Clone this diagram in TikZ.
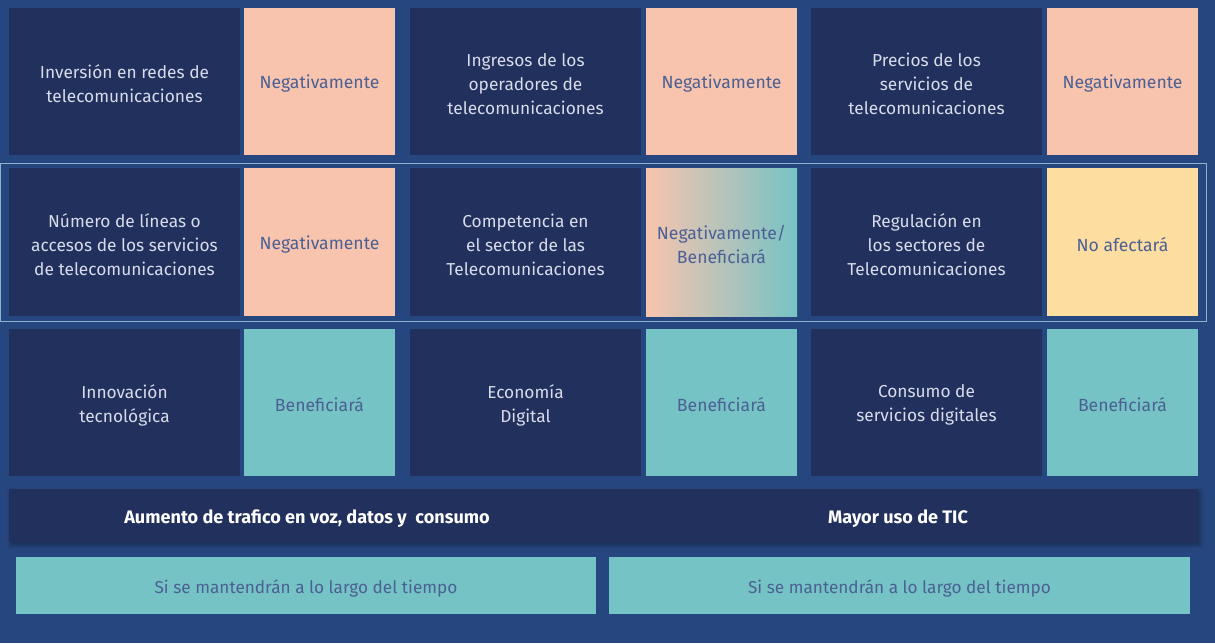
\documentclass[tikz,border=0pt]{standalone}
\usepackage{fontspec}
\setmainfont{Fira Sans}
\usetikzlibrary{shadows.blur}
\definecolor{bgblue}{HTML}{26467F}
\definecolor{navy}{HTML}{21305C}
\definecolor{salmon}{HTML}{F8C4AE}
\definecolor{tealc}{HTML}{76C3C5}
\definecolor{yellowc}{HTML}{FEDEA0}
\definecolor{lighttxt}{HTML}{D8DCEA}
\definecolor{bluetxt}{HTML}{4B6094}
\definecolor{outline}{HTML}{8FB3CC}
\tikzset{
  box/.style={inner sep=0pt},
  topic/.style={box, fill=navy, minimum width=231pt, minimum height=147pt},
  effect/.style={box, minimum width=151pt, minimum height=147pt},
  neg/.style={effect, fill=salmon},
  ben/.style={effect, fill=tealc},
  none/.style={effect, fill=yellowc},
  mixed/.style={effect, left color=salmon, right color=tealc},
  tall/.style={minimum height=148pt},
  ttxt/.style={inner sep=0pt, align=center, text=lighttxt, font=\fontsize{17.3}{24}\selectfont},
  etxt/.style={inner sep=0pt, align=center, text=bluetxt, font=\fontsize{17.6}{24}\selectfont},
  bar/.style={inner sep=0pt, fill=navy, minimum width=1189pt, minimum height=53pt},
  bartext/.style={inner sep=0pt, text=white, font=\fontsize{18.1}{20}\selectfont\bfseries},
  keep/.style={box, fill=tealc, minimum height=57pt},
  ktxt/.style={inner sep=0pt, text=bluetxt, font=\fontsize{17.2}{20}\selectfont},
}
% #1 box style, #2 text style, #3 name, #4 position, #5 text
\newcommand\cellbox[5]{%
  \node[#1] (#3) at (#4) {};
  \node[#2] (#3t) at ([yshift=-2.5pt]#3.center) {#5};}
\begin{document}
\begin{tikzpicture}[x=1pt,y=-1pt]
\fill[bgblue] (0,0) rectangle (1215,643);
\useasboundingbox (0,0) rectangle (1215,643);
% row 1
\cellbox{topic}{ttxt}{t11}{124.5,81.5}{Inversión en redes de\\telecomunicaciones}
\cellbox{neg}{etxt}{e11}{319.5,81.5}{Negativamente}
\cellbox{topic}{ttxt}{t12}{525.5,81.5}{Ingresos de los\\operadores de\\telecomunicaciones}
\cellbox{neg}{etxt}{e12}{721.5,81.5}{Negativamente}
\cellbox{topic}{ttxt}{t13}{926.5,81.5}{Precios de los\\servicios de\\telecomunicaciones}
\cellbox{neg}{etxt}{e13}{1122.5,81.5}{Negativamente}
% row 2
\cellbox{topic,tall}{ttxt}{t21}{124.5,242}{Número de líneas o\\accesos de los servicios\\de telecomunicaciones}
\cellbox{neg,tall}{etxt}{e21}{319.5,242}{Negativamente}
\cellbox{topic,tall}{ttxt}{t22}{525.5,242}{Competencia en\\el sector de las\\Telecomunicaciones}
\cellbox{mixed,tall}{etxt}{e22}{721.5,242}{Negativamente/\\Beneficiará}
\cellbox{topic,tall}{ttxt}{t23}{926.5,242}{Regulación en\\los sectores de\\Telecomunicaciones}
\cellbox{none,tall}{etxt}{e23}{1122.5,242}{No afectará}
% row 3
\cellbox{topic}{ttxt}{t31}{124.5,402.5}{Innovación\\tecnológica}
\cellbox{ben}{etxt}{e31}{319.5,402.5}{Beneficiará}
\cellbox{topic}{ttxt}{t32}{525.5,402.5}{Economía\\Digital}
\cellbox{ben}{etxt}{e32}{721.5,402.5}{Beneficiará}
\cellbox{topic}{ttxt}{t33}{926.5,402.5}{Consumo de\\servicios digitales}
\cellbox{ben}{etxt}{e33}{1122.5,402.5}{Beneficiará}
% highlight outline of row 2
\node[draw=outline, line width=0.9pt, inner sep=0pt, minimum width=1205.5pt, minimum height=158pt] (hl) at (603.25,242.5) {};
% bottom bar
\node[bar, blur shadow={shadow xshift=2pt, shadow yshift=-3pt, shadow blur radius=4pt, shadow opacity=35}] (bar) at (603.5,515.5) {};
\node[bartext] (b1) at (307,518.5) {Aumento de trafico en voz, datos y\ \ consumo};
\node[bartext] (b2) at (898,518.5) {Mayor uso de TIC};
\cellbox{keep, minimum width=580pt}{ktxt}{k1}{306,585.5}{Si se mantendrán a lo largo del tiempo}
\cellbox{keep, minimum width=581pt}{ktxt}{k2}{899.5,585.5}{Si se mantendrán a lo largo del tiempo}
\end{tikzpicture}
\end{document}
